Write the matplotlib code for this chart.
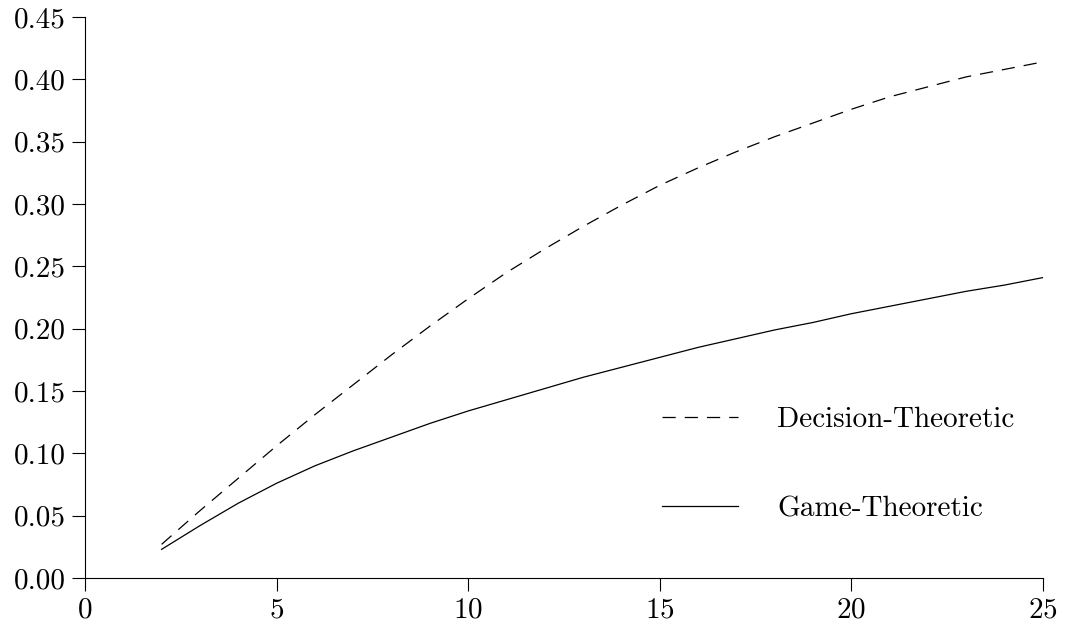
import matplotlib
matplotlib.use("Agg")
import matplotlib.pyplot as plt
from matplotlib.ticker import FormatStrFormatter

# values
x = [2, 3, 4, 5, 6, 7, 8, 9, 10, 11, 12, 13, 14, 15, 16, 17, 18, 19, 20, 21, 22, 23, 24, 25]
decision = [0.027, 0.054, 0.080, 0.106, 0.131, 0.155, 0.179, 0.202, 0.224, 0.245, 0.264, 0.282,
            0.299, 0.315, 0.329, 0.342, 0.354, 0.365, 0.376, 0.386, 0.394, 0.402, 0.408, 0.414]
game = [0.023, 0.042, 0.060, 0.076, 0.090, 0.102, 0.113, 0.124, 0.134, 0.143, 0.152, 0.161,
        0.169, 0.177, 0.185, 0.192, 0.199, 0.205, 0.212, 0.218, 0.224, 0.230, 0.235, 0.241]

plt.rcParams['font.family'] = 'serif'
plt.rcParams['font.serif'] = ['cmr10']
plt.rcParams['mathtext.fontset'] = 'cm'
plt.rcParams['axes.formatter.use_mathtext'] = True
plt.rcParams['lines.scale_dashes'] = False

fig = plt.figure(figsize=(10.66, 6.3), dpi=100)
ax = fig.add_axes([0.0797, 0.0825, 0.8987, 0.8905])

ax.plot(x, decision, color='black', linewidth=0.9, dashes=(9.5, 6.5), label='Decision-Theoretic')
ax.plot(x, game, color='black', linewidth=0.9, linestyle='-', label='Game-Theoretic')

ax.set_xlim(0, 25)
ax.set_ylim(0, 0.45)
ax.set_xticks([0, 5, 10, 15, 20, 25])
ax.set_yticks([0.0, 0.05, 0.10, 0.15, 0.20, 0.25, 0.30, 0.35, 0.40, 0.45])
ax.yaxis.set_major_formatter(FormatStrFormatter('%.2f'))

for s in ['top', 'right']:
    ax.spines[s].set_visible(False)
for s in ['left', 'bottom']:
    ax.spines[s].set_linewidth(0.8)
ax.tick_params(direction='out', length=9.5, width=0.8, labelsize=21, pad=4)

ax.legend(loc='center', bbox_to_anchor=(0.786, 0.202), frameon=False, fontsize=21,
          handlelength=2.6, handletextpad=1.35, labelspacing=2.15)

fig.savefig('out.png', dpi=100)
